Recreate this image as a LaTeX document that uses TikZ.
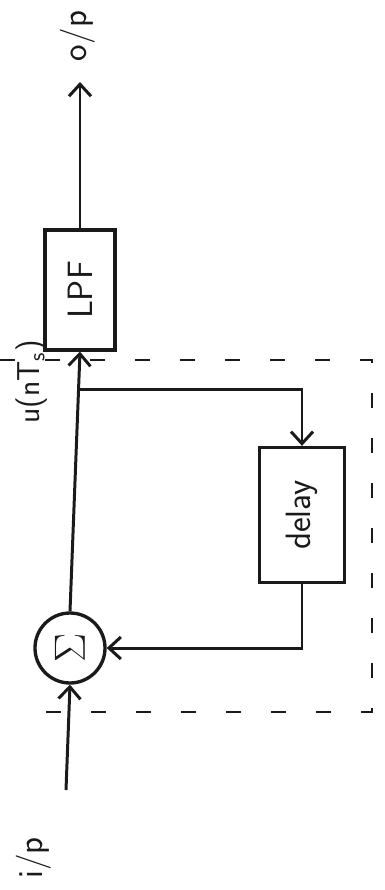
\documentclass[tikz,border=0pt]{standalone}
\usepackage{tikz}
\usetikzlibrary{arrows.meta, positioning, calc}
\definecolor{cInk}{HTML}{1A1A1A}
\tikzset{
  blk/.style={rectangle, draw=cInk, line width=1.9pt, inner sep=0pt, text=cInk,
              font=\sffamily\fontsize{20}{24}\selectfont},
  sumnode/.style={circle, draw=cInk, line width=1.9pt, minimum size=14mm, inner sep=0pt, text=cInk},
  sig/.style={-{Straight Barb[length=2.4mm, width=4.4mm, line width=1.7pt]}, line width=1.7pt, draw=cInk},
  lab/.style={text=cInk, font=\sffamily\fontsize{20}{24}\selectfont, rotate=90, inner sep=1pt},
  region/.style={draw=cInk, line width=1.4pt, dash pattern=on 3mm off 6mm},
}

\begin{document}
\begin{tikzpicture}[x=0.2mm, y=-0.2mm]
  \useasboundingbox (0,0) rectangle (384,890);
  % ---- blocks
  \node[blk, minimum width=14mm, minimum height=24mm] (lpf) at (80,290) {\rotatebox{90}{LPF}};
  \node[blk, minimum width=17mm, minimum height=27mm] (delay) at (302,515) {\rotatebox{90}{delay}};
  \node[sumnode] (sum) at (70,648) {\rotatebox{90}{\fontsize{24}{26}\selectfont$\Sigma$}};

  % ---- end points and labels
  \coordinate (in) at (66,790);
  \coordinate (out) at (80,82);
  \coordinate (br) at ($(sum.north)!0.855!(lpf.south)$);
  \node[lab] (ip) at (34,858) {i/p};
  \node[lab] (op) at (78,36) {o/p};
  \node[lab, font=\sffamily\fontsize{18}{20}\selectfont] (u) at (32,382) {u(nT\textsubscript{s})};

  % ---- dashed loop region
  \draw[region] (0,360) -- (372,360) -- (372,712) -- (22,712);

  % ---- arrows
  \draw[sig] (in) -- (sum.south);
  \draw[sig] (sum.north) -- (lpf.south);
  \draw[sig] (lpf.north) -- (out);
  \draw[sig] (br) -| (delay.north);
  \draw[sig] (delay.south) |- (sum.east);
\end{tikzpicture}
\end{document}
